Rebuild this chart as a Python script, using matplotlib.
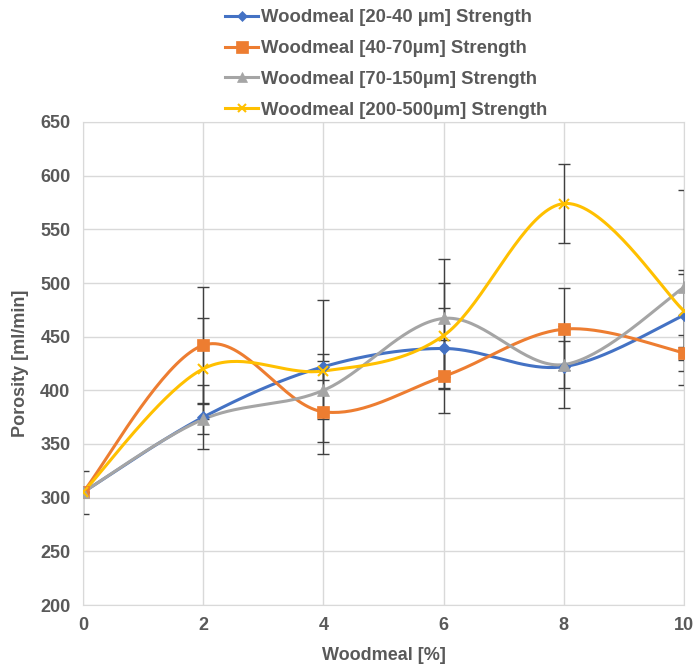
import numpy as np
import matplotlib.pyplot as plt

# --------------- Data ---------------------------------------------------------

woodmeal = [0, 2, 4, 6, 8, 10]

por_20_40 = [305, 375, 422, 439, 422, 470]
por_40_70 = [305, 442, 380, 413, 457, 435]
por_70_150 = [305, 373, 400, 467, 424, 496]
por_200_500 = [305, 420, 418, 451, 574, 474]

err_20_40 = [20, 30, 12, 38, 38, 42]
err_40_70 = [0, 54, 39, 34, 38, 17]
err_70_150 = [0, 14, 27, 55, 22, 91]
err_200_500 = [0, 47, 66, 49, 37, 34]

labels = ['Woodmeal [20-40 µm] Strength',
          'Woodmeal [40-70µm] Strength',
          'Woodmeal [70-150µm] Strength',
          'Woodmeal [200-500µm] Strength']

yticks = [200, 250, 300, 350, 400, 450, 500, 550, 600, 650]


# ----- smoothed line like a spreadsheet "smooth line" ------------------------

def smooth(x, y, n=40):
    p = np.column_stack([x, y]).astype(float)
    p = np.vstack([p[0], p, p[-1]])
    out = []
    for i in range(1, len(p) - 2):
        p0, p1, p2, p3 = p[i - 1], p[i], p[i + 1], p[i + 2]
        c1 = p1 + (p2 - p0) / 6.0
        c2 = p2 - (p3 - p1) / 6.0
        t = np.linspace(0, 1, n)[:, None]
        seg = ((1 - t) ** 3 * p1 + 3 * (1 - t) ** 2 * t * c1
               + 3 * (1 - t) * t ** 2 * c2 + t ** 3 * p2)
        out.append(seg if i == 1 else seg[1:])
    out = np.vstack(out)
    return out[:, 0], out[:, 1]


# ----- Plot --------------------------------------------------------------------

plt.rcParams['font.family'] = ['Liberation Sans', 'DejaVu Sans']
txt = '#595959'

fig = plt.figure(figsize=(6.93, 6.67), dpi=100)
ax = fig.add_axes([83 / 693, 1 - 605 / 667, 601 / 693, 483 / 667])

series = [
    (por_20_40, err_20_40, '#4472C4', 'D', 6),
    (por_40_70, err_40_70, '#ED7D31', 's', 9),
    (por_70_150, err_70_150, '#A5A5A5', '^', 8),
    (por_200_500, err_200_500, '#FFC000', 'x', 7),
]

handles = []
for (vals, errs, col, mk, ms), lab in zip(series, labels):
    xs, ys = smooth(woodmeal, vals)
    ax.plot(xs, ys, color=col, linewidth=2.2, zorder=3, solid_capstyle='round')
    ax.errorbar(woodmeal, vals, yerr=errs, fmt='none', ecolor='#404040',
                elinewidth=1.0, capsize=4, capthick=1.0, zorder=2)
    ax.plot(woodmeal, vals, linestyle='none', marker=mk, markersize=ms,
            color=col, markeredgewidth=1.5 if mk == 'x' else 0.5, zorder=4)
    h, = ax.plot([], [], color=col, linewidth=2.2, marker=mk, markersize=ms - 1,
                 markeredgewidth=1.5 if mk == 'x' else 0.5, label=lab)
    handles.append(h)

ax.set_xlim(0, 10)
ax.set_ylim(200, 650)
ax.set_xticks(woodmeal)
ax.set_yticks(yticks)
ax.grid(True, color='#D9D9D9', linewidth=1.0)
ax.set_axisbelow(True)
for s in ax.spines.values():
    s.set_color('#D9D9D9')
ax.tick_params(length=0, pad=9, labelsize=13, labelcolor=txt)
for t in ax.get_xticklabels() + ax.get_yticklabels():
    t.set_fontweight('bold')

ax.set_xlabel('Woodmeal [%]', fontsize=13, fontweight='bold', color=txt, labelpad=9)
ax.set_ylabel('Porosity [ml/min]', fontsize=13, fontweight='bold', color=txt, labelpad=8)

leg = fig.legend(handles=handles, loc='upper left', bbox_to_anchor=(216 / 693, 1.0),
                 frameon=False, fontsize=13.3, labelspacing=0.75, handlelength=1.8,
                 handletextpad=0.15, borderaxespad=0.1)
for t in leg.get_texts():
    t.set_fontweight('bold')
    t.set_color(txt)

plt.savefig('out.png', dpi=100)
